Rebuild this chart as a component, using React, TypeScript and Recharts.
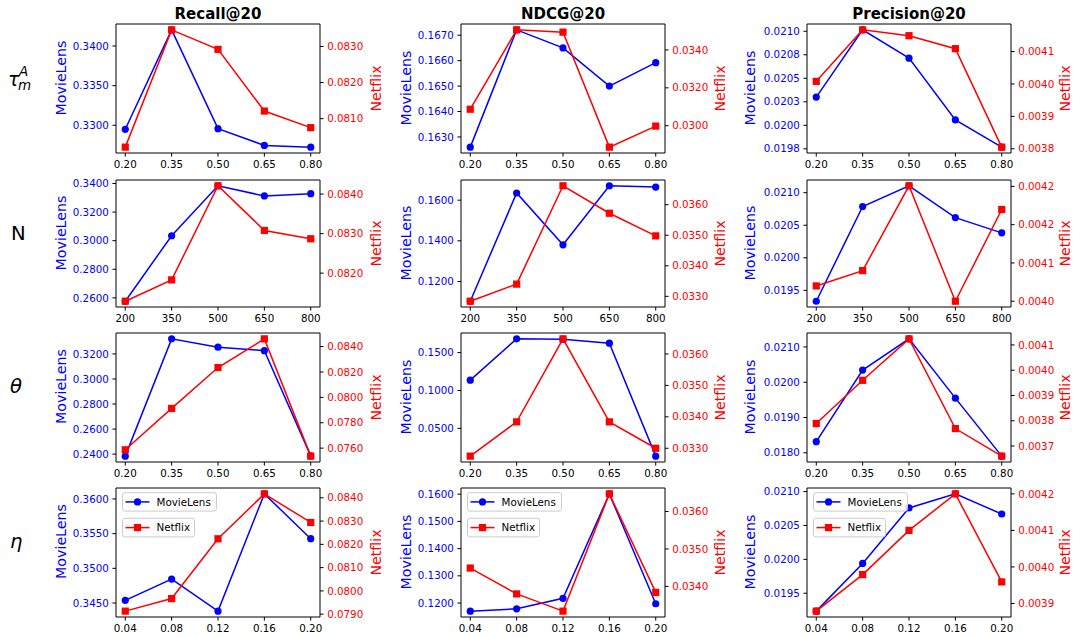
import React from 'react';
import { LineChart, Line, XAxis, YAxis, ReferenceLine } from 'recharts';

// x tick labels for each row (parameter values)
const xTau = ['0.20', '0.35', '0.50', '0.65', '0.80'];
const xN = ['200', '350', '500', '650', '800'];
const xTheta = ['0.20', '0.35', '0.50', '0.65', '0.80'];
const xEta = ['0.04', '0.08', '0.12', '0.16', '0.20'];

// Row tau_m^A
const recallTauML = [0.32949, 0.34204, 0.32957, 0.32746, 0.32724];
const recallTauNF = [0.08021, 0.08346, 0.08292, 0.08121, 0.08075];
const ndcgTauML = [0.1626, 0.16721, 0.1665, 0.165, 0.16592];
const ndcgTauNF = [0.03087, 0.03506, 0.03494, 0.02887, 0.02998];
const precTauML = [0.0203, 0.021015, 0.020714, 0.020057, 0.019768];
const precTauNF = [0.004008, 0.004167, 0.004149, 0.004109, 0.003805];
// Row N
const recallNML = [0.25765, 0.30346, 0.3384, 0.33128, 0.33287];
const recallNNF = [0.08129, 0.08183, 0.08421, 0.08308, 0.08287];
const ndcgNML = [0.11029, 0.16354, 0.13806, 0.16709, 0.16646];
const ndcgNNF = [0.03284, 0.0334, 0.03662, 0.03572, 0.03498];
const precNML = [0.019333, 0.020788, 0.021106, 0.020617, 0.020383];
const precNNF = [0.00407, 0.00409, 0.0042008, 0.00405, 0.0041698];
// Row theta
const recallThML = [0.2384, 0.33205, 0.32538, 0.32265, 0.2386];
const recallThNF = [0.07587, 0.07913, 0.08235, 0.08461, 0.07537];
const ndcgThML = [0.11362, 0.16812, 0.1677, 0.16243, 0.01336];
const ndcgThNF = [0.03275, 0.03384, 0.03648, 0.03384, 0.033];
const precThML = [0.018316, 0.020345, 0.02123, 0.019549, 0.017905];
const precThNF = [0.003789, 0.00396, 0.004124, 0.003769, 0.00366];
// Row eta
const recallEtaML = [0.34539, 0.34845, 0.34383, 0.36073, 0.35427];
const recallEtaNF = [0.07913, 0.07967, 0.08224, 0.08417, 0.08294];
const ndcgEtaML = [0.11703, 0.11788, 0.12175, 0.16011, 0.11974];
const ndcgEtaNF = [0.03449, 0.0338, 0.03334, 0.03647, 0.03384];
const precEtaML = [0.019236, 0.01994, 0.020758, 0.020966, 0.020669];
const precEtaNF = [0.003879, 0.003979, 0.0041, 0.0042, 0.003959];

// y tick values (left = MovieLens, right = Netflix)
const recallTauLT = [0.33, 0.335, 0.34];
const recallTauRT = [0.081, 0.082, 0.083];
const ndcgTauLT = [0.163, 0.164, 0.165, 0.166, 0.167];
const ndcgTauRT = [0.03, 0.032, 0.034];
const precTauLT = [0.01975, 0.02, 0.02025, 0.0205, 0.02075, 0.021];
const precTauLL = ['0.0198', '0.0200', '0.0203', '0.0205', '0.0208', '0.0210'];
const precTauRT = [0.0038, 0.0039, 0.004, 0.0041];
const recallNLT = [0.26, 0.28, 0.3, 0.32, 0.34];
const recallNRT = [0.082, 0.083, 0.084];
const ndcgNLT = [0.12, 0.14, 0.16];
const ndcgNRT = [0.033, 0.034, 0.035, 0.036];
const precNLT = [0.0195, 0.02, 0.0205, 0.021];
const precNRT = [0.00405, 0.0041, 0.00415, 0.0042];
const precNRL = ['0.0040', '0.0041', '0.0042', '0.0042'];
const recallThLT = [0.24, 0.26, 0.28, 0.3, 0.32];
const recallThRT = [0.076, 0.078, 0.08, 0.082, 0.084];
const ndcgThLT = [0.05, 0.1, 0.15];
const ndcgThRT = [0.033, 0.034, 0.035, 0.036];
const precThLT = [0.018, 0.019, 0.02, 0.021];
const precThRT = [0.0037, 0.0038, 0.0039, 0.004, 0.0041];
const recallEtaLT = [0.345, 0.35, 0.355, 0.36];
const recallEtaRT = [0.079, 0.08, 0.081, 0.082, 0.083, 0.084];
const ndcgEtaLT = [0.12, 0.13, 0.14, 0.15, 0.16];
const ndcgEtaRT = [0.034, 0.035, 0.036];
const precEtaLT = [0.0195, 0.02, 0.0205, 0.021];
const precEtaRT = [0.0039, 0.004, 0.0041, 0.0042];

const titles = ['Recall@20', 'NDCG@20', 'Precision@20'];

const FONT = "'DejaVu Sans', sans-serif";
const FS = 10.3;
const COL_LEFT = [116, 461, 807];
const PW = 204;
const ROW_TOP = [24, 180, 333, 488];
const ROW_H = [129, 127, 129, 129];
const YW = 70;

const pad = (a: number[]) => {
  const mn = Math.min(...a);
  const mx = Math.max(...a);
  const r = mx - mn;
  return [mn - 0.05 * r, mx + 0.05 * r];
};

const panels = [
  { r: 0, c: 0, x: xTau, ml: recallTauML, nf: recallTauNF, lt: recallTauLT, rt: recallTauRT },
  { r: 0, c: 1, x: xTau, ml: ndcgTauML, nf: ndcgTauNF, lt: ndcgTauLT, rt: ndcgTauRT },
  { r: 0, c: 2, x: xTau, ml: precTauML, nf: precTauNF, lt: precTauLT, rt: precTauRT, ll: precTauLL },
  { r: 1, c: 0, x: xN, ml: recallNML, nf: recallNNF, lt: recallNLT, rt: recallNRT },
  { r: 1, c: 1, x: xN, ml: ndcgNML, nf: ndcgNNF, lt: ndcgNLT, rt: ndcgNRT },
  { r: 1, c: 2, x: xN, ml: precNML, nf: precNNF, lt: precNLT, rt: precNRT, rl: precNRL },
  { r: 2, c: 0, x: xTheta, ml: recallThML, nf: recallThNF, lt: recallThLT, rt: recallThRT },
  { r: 2, c: 1, x: xTheta, ml: ndcgThML, nf: ndcgThNF, lt: ndcgThLT, rt: ndcgThRT },
  { r: 2, c: 2, x: xTheta, ml: precThML, nf: precThNF, lt: precThLT, rt: precThRT },
  { r: 3, c: 0, x: xEta, ml: recallEtaML, nf: recallEtaNF, lt: recallEtaLT, rt: recallEtaRT },
  { r: 3, c: 1, x: xEta, ml: ndcgEtaML, nf: ndcgEtaNF, lt: ndcgEtaLT, rt: ndcgEtaRT },
  { r: 3, c: 2, x: xEta, ml: precEtaML, nf: precEtaNF, lt: precEtaLT, rt: precEtaRT },
];

const fmt = (ticks: number[], labs?: string[]) => (v: number) => {
  const k = ticks.findIndex((t) => Math.abs(t - v) < 1e-12);
  if (labs && k >= 0) return labs[k];
  return Number(v).toFixed(4);
};

const Square = (props: any) => {
  const { cx, cy, index } = props;
  if (cx == null || cy == null) return <g key={`e${index}`} />;
  return <rect key={`s${index}`} x={cx - 3.6} y={cy - 3.6} width={7.2} height={7.2} fill="#ff0000" />;
};

function Panel(p: any) {
  const left = COL_LEFT[p.c];
  const top = ROW_TOP[p.r];
  const h = ROW_H[p.r];
  const data = p.ml.map((v: number, i: number) => ({ i, ml: v, nf: p.nf[i] }));
  const dl = pad(p.ml);
  const dr = pad(p.nf);
  return (
    <div style={{ position: 'absolute', left: left - YW, top: top - 10 }}>
      <LineChart width={PW + 2 * YW} height={h + 40} data={data} margin={{ top: 10, right: 0, bottom: 0, left: 0 }}>
        <XAxis
          dataKey="i"
          type="number"
          domain={[-0.2, 4.2]}
          ticks={[0, 1, 2, 3, 4]}
          allowDataOverflow
          interval={0}
          height={30}
          tickFormatter={(v: number) => p.x[v]}
          tick={{ fill: '#000', fontSize: FS, fontFamily: FONT }}
          tickSize={3.6}
          tickMargin={3.6}
          axisLine={{ stroke: '#000' }}
          tickLine={{ stroke: '#000' }}
        />
        <YAxis
          yAxisId="l"
          orientation="left"
          type="number"
          width={YW}
          domain={dl}
          allowDataOverflow
          ticks={p.lt}
          interval={0}
          tickFormatter={fmt(p.lt, p.ll)}
          tick={{ fill: '#0000ff', fontSize: FS, fontFamily: FONT }}
          tickSize={3.6}
          tickMargin={3.6}
          axisLine={{ stroke: '#000' }}
          tickLine={{ stroke: '#000' }}
        />
        <YAxis
          yAxisId="r"
          orientation="right"
          type="number"
          width={YW}
          domain={dr}
          allowDataOverflow
          ticks={p.rt}
          interval={0}
          tickFormatter={fmt(p.rt, p.rl)}
          tick={{ fill: '#ff0000', fontSize: FS, fontFamily: FONT }}
          tickSize={3.6}
          tickMargin={3.6}
          axisLine={{ stroke: '#000' }}
          tickLine={{ stroke: '#000' }}
        />
        <ReferenceLine yAxisId="l" y={dl[1]} stroke="#000" ifOverflow="visible" />
        <Line
          yAxisId="l"
          dataKey="ml"
          stroke="#0000ff"
          strokeWidth={1.5}
          dot={{ r: 3.6, fill: '#0000ff', stroke: 'none', strokeWidth: 0 }}
          activeDot={false}
          isAnimationActive={false}
        />
        <Line
          yAxisId="r"
          dataKey="nf"
          stroke="#ff0000"
          strokeWidth={1.5}
          dot={Square}
          activeDot={false}
          isAnimationActive={false}
        />
      </LineChart>
    </div>
  );
}

const rowLabelY = [78, 233, 386.5, 541.5];
const netflixX = [375.5, 719.5, 1065];
const movieX = [61, 405.5, 749.5];

function Legends() {
  const top = ROW_TOP[3];
  return (
    <g>
      {COL_LEFT.map((cl, c) => {
        const bx = cl + 6.5;
        const y1 = top + 4.7;
        const y2 = top + 30.3;
        return (
          <g key={c}>
            <rect x={bx} y={y1} width={94} height={18.4} rx={2.5} fill="#fff" fillOpacity={0.8} stroke="#cccccc" strokeWidth={1} />
            <line x1={bx + 3} x2={bx + 27} y1={y1 + 9.2} y2={y1 + 9.2} stroke="#0000ff" strokeWidth={1.5} />
            <circle cx={bx + 15} cy={y1 + 9.2} r={3.6} fill="#0000ff" />
            <text x={bx + 34} y={y1 + 12.9} fontSize={FS} fontFamily={FONT} fill="#000">MovieLens</text>
            <rect x={bx} y={y2} width={72} height={18.6} rx={2.5} fill="#fff" fillOpacity={0.8} stroke="#cccccc" strokeWidth={1} />
            <line x1={bx + 3} x2={bx + 27} y1={y2 + 9.3} y2={y2 + 9.3} stroke="#ff0000" strokeWidth={1.5} />
            <rect x={bx + 15 - 3.6} y={y2 + 9.3 - 3.6} width={7.2} height={7.2} fill="#ff0000" />
            <text x={bx + 34} y={y2 + 13} fontSize={FS} fontFamily={FONT} fill="#000">Netflix</text>
          </g>
        );
      })}
    </g>
  );
}

export default function App() {
  return (
    <div style={{ position: 'absolute', left: 0, top: 0, width: 1074, height: 637, background: '#fff', overflow: 'hidden' }}>
      {panels.map((p, k) => (
        <Panel key={k} {...p} />
      ))}
      <svg width={1074} height={637} style={{ position: 'absolute', left: 0, top: 0, pointerEvents: 'none' }}>
        {titles.map((t, c) => (
          <text key={t} x={COL_LEFT[c] + PW / 2} y={19} textAnchor="middle" fontSize={15} fontWeight="bold" fontFamily={FONT} fill="#000">
            {t}
          </text>
        ))}
        {/* row labels */}
        <g fontFamily={FONT} fill="#000">
          <text x={8} y={86} fontSize={19} fontStyle="italic">τ</text>
          <text x={19} y={76} fontSize={13.5} fontStyle="italic">A</text>
          <text x={18} y={90} fontSize={13.5} fontStyle="italic">m</text>
          <text x={11} y={240} fontSize={19.6}>N</text>
          <text x={10} y={393} fontSize={19.6} fontStyle="italic">θ</text>
          <text x={10} y={547.5} fontSize={19.6} fontStyle="italic">η</text>
        </g>
        {ROW_TOP.map((t, r) => (
          <g key={r}>
            {movieX.map((mx, c) => {
              const cy = c === 0 ? rowLabelY[r] : t + ROW_H[r] / 2 - 0.5;
              return (
                <text key={`m${c}`} transform={`translate(${mx},${cy}) rotate(-90)`} textAnchor="middle" dominantBaseline="central" fontSize={14.2} fontFamily={FONT} fill="#0000ff">
                  MovieLens
                </text>
              );
            })}
            {netflixX.map((nx, c) => (
              <text key={`n${c}`} transform={`translate(${nx},${t + ROW_H[r] / 2}) rotate(-90)`} textAnchor="middle" dominantBaseline="central" fontSize={14.2} fontFamily={FONT} fill="#ff0000">
                Netflix
              </text>
            ))}
          </g>
        ))}
        <Legends />
      </svg>
    </div>
  );
}
